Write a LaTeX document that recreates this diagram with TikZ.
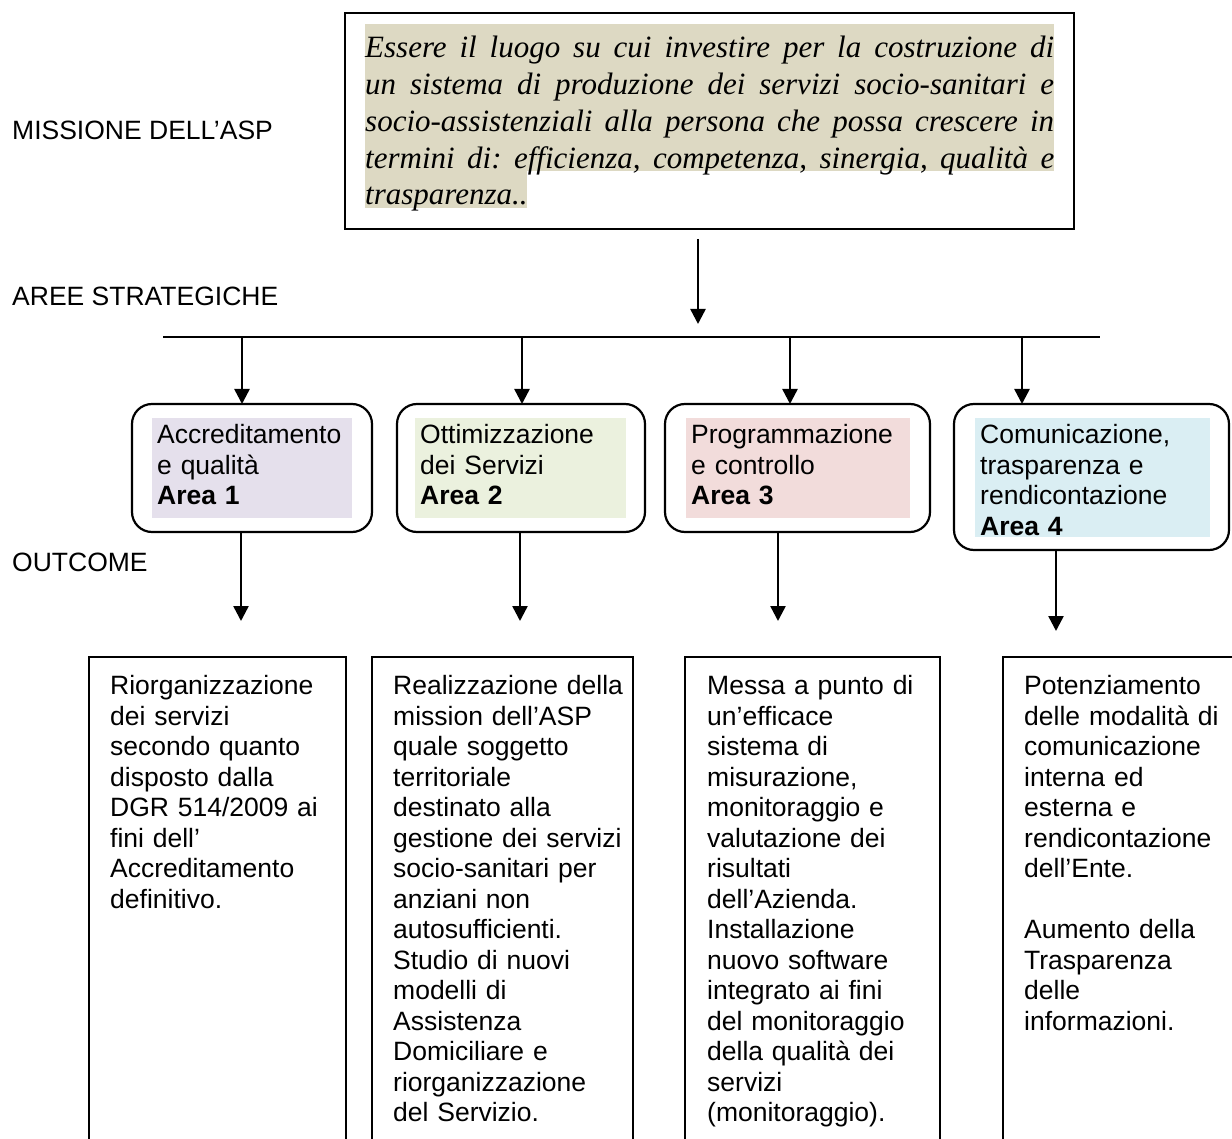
\documentclass[tikz,border=0pt]{standalone}
\usepackage{fontspec}
\setmainfont{Liberation Sans}
\newfontfamily\missionfont{Liberation Serif}
\usetikzlibrary{positioning,calc,arrows.meta}
\definecolor{hltan}{RGB}{221,217,195}
\definecolor{arealilac}{RGB}{229,224,236}
\definecolor{areagreen}{RGB}{235,241,222}
\definecolor{areapink}{RGB}{242,220,219}
\definecolor{areablue}{RGB}{218,238,243}
\newcommand{\bodyfont}{\fontsize{26.5}{30.5}\selectfont}
\newcommand{\missfont}{\missionfont\itshape\fontsize{31}{36.7}\selectfont\frenchspacing}
\newcommand{\jline}[1]{{\spaceskip=0pt\xspaceskip=0pt\makebox[689pt][s]{#1}}}

\begin{document}
\begin{tikzpicture}[x=1pt,y=-1pt,
arr/.style={line width=2.5pt,-{Triangle[length=15pt,width=15pt]}},
areabox/.style={draw,line width=2.2pt,outer sep=0pt,rounded corners=20pt,anchor=north west},
areatext/.style={inner xsep=5pt,inner ysep=4pt,align=left,font=\bodyfont,
  execute at begin node=\strut,execute at end node=\strut},
outbox/.style={draw,line width=2pt,outer sep=0pt,anchor=north west,minimum height=520pt},
outtext/.style={inner sep=0pt,text width=240pt,align=left,font=\bodyfont},
sidelabel/.style={inner sep=0pt,font=\bodyfont,anchor=base west}]

\useasboundingbox (0,0) rectangle (1232,1139);
\clip (0,0) rectangle (1232,1139);

% mission
\fill[hltan] (365,24) rectangle (1054,171);
\fill[hltan] (365,171) rectangle (527,208);
\node[draw,line width=2pt,minimum width=729pt,minimum height=216pt,inner sep=0pt,outer sep=0pt,anchor=north west] (mission) at (345,13) {};
\node[inner sep=0pt,text width=689pt,align=left,anchor=base west,font=\missfont] (missiontext) at (365,58)
  {\jline{Essere il luogo su cui investire per la costruzione di}\\
   \jline{un sistema di produzione dei servizi socio-sanitari e}\\
   \jline{socio-assistenziali alla persona che possa crescere in}\\
   \jline{termini di: efficienza, competenza, sinergia, qualità e}\\
   trasparenza..};

% side labels
\node[sidelabel] (lmission) at (12,139.5) {MISSIONE DELL’ASP};
\node[sidelabel] (laree) at (12,305.5) {AREE STRATEGICHE};
\node[sidelabel] (loutcome) at (12,571.5) {OUTCOME};

% strategic areas
\node[areabox,minimum width=240pt,minimum height=128pt] (a1) at (132,404) {};
\node[areabox,minimum width=248pt,minimum height=128pt,right=25pt of a1.north east,anchor=north west] (a2) {};
\node[areabox,minimum width=265pt,minimum height=128pt,right=20pt of a2.north east,anchor=north west] (a3) {};
\node[areabox,minimum width=275pt,minimum height=146pt,right=24pt of a3.north east,anchor=north west] (a4) {};

\node[areatext,fill=arealilac,text width=190pt,below right=14pt and 20pt of a1.north west] (s1) {Accreditamento\\e qualità\\\textbf{Area 1}};
\node[areatext,fill=areagreen,text width=201pt,below right=14pt and 18pt of a2.north west] (s2) {Ottimizzazione\\dei Servizi\\\textbf{Area 2}};
\node[areatext,fill=areapink,text width=214pt,below right=14pt and 21pt of a3.north west] (s3) {Programmazione\\e controllo\\\textbf{Area 3}};
\begin{scope}
\clip ([xshift=21pt,yshift=-14pt]a4.north west) rectangle ([xshift=-19pt,yshift=14pt]a4.south east);
\node[areatext,fill=areablue,text width=225pt,below right=14pt and 21pt of a4.north west] (s4) {Comunicazione,\\trasparenza e\\rendicontazione\\\textbf{Area 4}};
\end{scope}

% outcomes
\node[outbox,minimum width=257pt] (o1) at (89,657) {};
\node[outbox,minimum width=261pt] (o2) at (372,657) {};
\node[outbox,minimum width=255pt] (o3) at (685,657) {};
\node[outbox,minimum width=260pt] (o4) at (1003,657) {};

\node[outtext,below right=37.5pt and 21pt of o1.north west,anchor=base west] (t1text)
  {Riorganizzazione\\dei servizi\\secondo quanto\\disposto dalla\\DGR 514/2009 ai\\fini dell’\\Accreditamento\\definitivo.};
\node[outtext,below right=37.5pt and 21pt of o2.north west,anchor=base west] (t2text)
  {Realizzazione della\\mission dell’ASP\\quale soggetto\\territoriale\\destinato alla\\gestione dei servizi\\socio-sanitari per\\anziani non\\autosufficienti.\\Studio di nuovi\\modelli di\\Assistenza\\Domiciliare e\\riorganizzazione\\del Servizio.};
\node[outtext,below right=37.5pt and 22pt of o3.north west,anchor=base west] (t3text)
  {Messa a punto di\\un’efficace\\sistema di\\misurazione,\\monitoraggio e\\valutazione dei\\risultati\\dell’Azienda.\\Installazione\\nuovo software\\integrato ai fini\\del monitoraggio\\della qualità dei\\servizi\\(monitoraggio).};
\node[outtext,below right=37.5pt and 21pt of o4.north west,anchor=base west] (t4text)
  {Potenziamento\\delle modalità di\\comunicazione\\interna ed\\esterna e\\rendicontazione\\dell’Ente.\\[30.5pt]Aumento della\\Trasparenza\\delle\\informazioni.};

% connectors
\coordinate (mtip) at (698,324);
\coordinate (busL) at (163,337);
\coordinate (busR) at (1100,337);
\coordinate (t1) at (242,337);
\coordinate (t2) at (522,337);
\coordinate (t3) at (790,337);
\coordinate (t4) at (1022,337);
\coordinate (b1) at (241,621);
\coordinate (b2) at (520,621);
\coordinate (b3) at (778,621);
\coordinate (b4) at (1056,631);

\draw[arr] ($(mission.south -| mtip)+(0,10)$) -- (mtip);
\draw[line width=2.5pt] (busL) -- (busR);
\draw[arr] (t1) -- (t1 |- a1.north);
\draw[arr] (t2) -- (t2 |- a2.north);
\draw[arr] (t3) -- (t3 |- a3.north);
\draw[arr] (t4) -- (t4 |- a4.north);
\draw[arr] (a1.south -| b1) -- (b1);
\draw[arr] (a2.south -| b2) -- (b2);
\draw[arr] (a3.south -| b3) -- (b3);
\draw[arr] (a4.south -| b4) -- (b4);

\end{tikzpicture}
\end{document}
